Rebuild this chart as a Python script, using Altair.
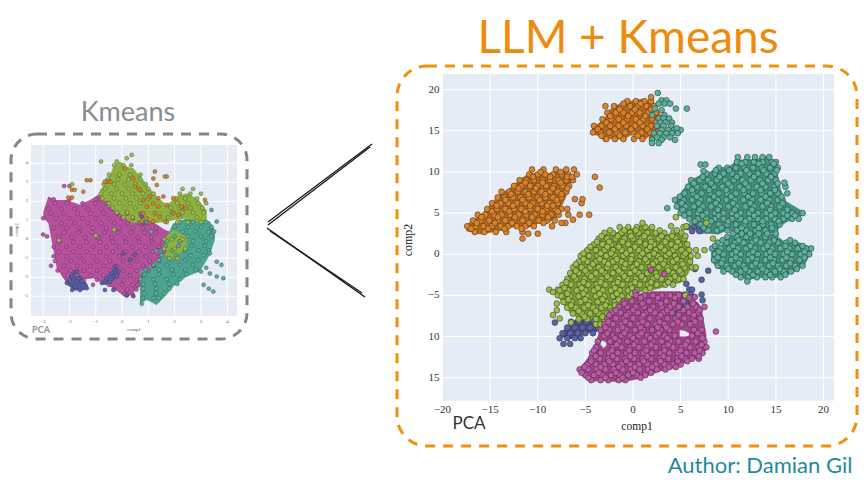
import altair as alt
import pandas as pd

COL = {"orange": "#e08224", "teal": "#56b29b", "green": "#99bf47", "magenta": "#c257a8", "blue": "#5a63a9"}
UNDER = {"orange": "#b9691c", "teal": "#44907c", "green": "#7c9c38", "magenta": "#9f4689", "blue": "#474e8a", "hole": "#e5ecf6"}
L_UNDER = {"orange": "#d07a20", "teal": "#4ba48e", "green": "#8db040", "magenta": "#b5509c", "blue": "#525a9c"}

# ---------- right panel (LLM + Kmeans) ----------
R_XDOM = [-20, 21.1]
R_YDOM = [-17.8, 21.9]
R_XTICKS = [-20, -15, -10, -5, 0, 5, 10, 15, 20]
R_XLABELS = ["\u221220", "\u221215", "\u221210", "\u22125", "0", "5", "10", "15", "20"]
R_YTICKS = [-15, -10, -5, 0, 5, 10, 15, 20]
R_YLABELS = ["15", "10", "\u22125", "0", "5", "10", "15", "20"]

R_BLOBS = [
    ("orange", [-17.5,-16,-15,-14,-13,-12,-11,-10,-9,-8,-7,-6.5],
     [3.6,4.8,6,7.3,8,9,9.8,9.9,9.8,10,10.3,9.5], [2.8,2.4,2.6,2.8,3.2,3.3,3.2,3.7,3.7,4.5,7,8.8]),
    ("orange", [-4.3,-3.5,-3,-2.5,-2,-1,0,1,2,3],
     [15.3,16,16.5,17.5,18,18.4,18.7,18.9,18.5,16.8], [14.6,14.3,13.6,14,14,13.9,14.6,13.8,14.5,15.8]),
    ("teal", [4.4,5,6,7,8,9,10,11,12,13,14,15,15.5,16,17,17.9],
     [6.6,7.5,9,9.6,10,10.6,10.6,11.5,11.5,11.6,11.9,11,8,6.5,5.8,5.2],
     [5.8,5,4.5,2.5,2.5,2.4,3,2.5,2.5,2.2,2.4,2.6,3.4,3.8,4.4,4.8]),
    ("teal", [8.2,9,10,11,12,13,14,15,16,17,18,18.7],
     [0.6,0.8,2.1,2.7,2.7,2.7,2.7,2.3,1.5,1.6,1.2,0.8], [-0.9,-1.8,-2.2,-2.6,-3.2,-2.9,-2.9,-2.9,-2.7,-2,-1.4,0.2]),
    ("blue", [-7.5,-7,-6,-5,-4,-3.6], [-9.5,-8.8,-7.9,-7.9,-8.2,-8.6], [-10,-10.3,-10.3,-9.6,-9.5,-9.3]),
    ("green", [-7.7,-7,-6.5,-6,-5,-4,-3,-2,-1,0,1,2,3,4,5,5.8,6.3],
     [-4,-3,-2,-1,0.3,1.2,2.5,2.6,3,3.2,3.6,3.1,2.5,2.5,2.6,1.5,-0.3],
     [-5.5,-6.6,-7.4,-7.6,-8,-8.4,-8.6,-7,-6.2,-5.2,-4.5,-4.4,-4.1,-3.7,-3.5,-2.4,-1]),
    ("magenta", [-5.6,-5,-4.4,-4,-3.5,-3,-2,-1,0,1,2,3,4,5,6,6.8,7.2,7.7],
     [-13.8,-13,-12,-11,-9.2,-8.6,-6.8,-6,-5,-4.7,-4.5,-4.5,-4.5,-4.5,-5.4,-5.8,-6.5,-9.8],
     [-14.4,-15,-15.4,-15.5,-15.3,-15.4,-15.5,-15.5,-15.3,-15,-14.6,-14.2,-14,-13.4,-13,-12.6,-12.3,-11.6]),
    ("hole", [-3.4,-3.1,-2.8], [-10.6,-10.5,-10.8], [-11,-11.4,-11.1]),
    ("hole", [4.9,5.4,5.9], [-9.2,-9.3,-9.6], [-10,-10,-9.9]),
]

R_ORANGE = [
    (2.7,[-16.6,-15.6,-14.4,-13.3,-11.6]),(1.9,[-11.6]),(2.5,[-11,-10]),
    (3.4,[-17.4,-16.5,-15.7,-14.8,-13.9,-13.1,-12.2,-11.3,-10.4,-8.5]),
    (3.8,[-7.1,-7.5]),(4.2,[-6.3]),
    (4.1,[-16.8,-16,-15.1,-14.2,-13.4,-12.5,-11.6,-10.7,-9.9,-9,-8.2]),
    (4.8,[-16.3,-15.5,-14.6,-13.8,-12.9,-12,-11.2,-10.3,-9.5,-8.6,-7.8,-6.8,-5.6,-4.6]),
    (5.5,[-15.3,-14.3,-13.4,-12.5,-11.7,-10.8,-10,-9.1,-8.2,-7.5,-6.9]),
    (6.2,[-14.8,-13.9,-13.1,-12.2,-11.3,-10.5,-9.6,-8.8,-7.9,-5.4]),
    (6.7,[-6.1,-5.3]),
    (6.9,[-14.2,-13.5,-12.6,-11.8,-10.9,-10,-9.2,-8.4,-7.5]),
    (7.6,[-13.8,-13,-12.1,-11.3,-10.4,-9.6,-8.7,-7.9,-7]),
    (8.3,[-12.5,-11.7,-10.8,-10,-9.1,-8.3,-7.4,-6.7]),
    (8.1,[-3.5]),(9.4,[-4]),
    (9,[-11.9,-11.2,-10.4,-9.5,-8.7,-7.8,-7,-6.3]),
    (9.7,[-10.9,-10,-9.2,-8.4,-7.5,-6.8,-5.9]),
    (10.3,[-10.6,-9.4,-8.1,-7,-6.2]),
    (14,[-2.8,-1.9,-1,0.1,1,2]),
    (14.8,[-4.2,-3.4,-2.5,-1.7,-0.8,0,0.9,1.8,2.5]),
    (15.6,[-4.1,-3.3,-2.4,-1.5,-0.7,0.2,1,1.9,2.7]),
    (16.4,[-3.2,-2.3,-1.5,-0.6,0.3,1.1,2,2.8]),
    (17.2,[-2.7,-1.8,-1,-0.1,0.7,1.6,2.4]),
    (18,[-2.9,-2,-1.2,-0.3,0.5,1.4,2.2]),
    (18.6,[-0.6,0.3,1.2,1.9]),(19.1,[1.9]),
    (3.1,[-17,-15.2,-13.5,-11.7]),(3.8,[-16.4,-14.5,-12.7,-10.9,-9.4]),(4.5,[-15.9,-14.2,-12.4,-10.6,-8.9]),
    (5.2,[-14.8,-13,-11.3,-9.5,-7.9]),(5.9,[-14.3,-12.6,-10.8,-9,-8.4]),(6.6,[-13.4,-11.6,-9.8,-8]),
    (7.3,[-12.8,-11,-9.2,-7.5]),(8,[-12,-10.2,-8.4,-6.9]),(8.7,[-11.3,-9.5,-7.6]),(9.4,[-10.5,-8.7,-6.9,-6.4]),
    (10,[-9.7,-7.6]),(14.4,[-3.3,-1.4,0.5,2.2]),(15.2,[-3.7,-1.9,-0.2,1.5]),(16,[-2.8,-1,0.7,2.4]),
    (16.8,[-2.4,-0.5,1.3]),(17.6,[-1.4,0.2,1.9]),(18.3,[-1,0.8]),
]
R_TEAL = [
    (19.6,[2.6]),(18.7,[3,3.5]),(18.3,[2.7,3.3,3.9]),(17.7,[2.3,4.5,5.65]),(17.5,[3]),
    (16.9,[2,3.3]),(16.5,[2.7,3.8,3.2]),(16,[2.9,4.1,3.4]),(15.6,[2.5,3.2,4]),(15.1,[3,3.7,4.3,5]),
    (15.3,[4.6]),(14.7,[2.2,2.8,3.5,4.1,4.7]),(14.2,[2.5,3.2,3.9]),(13.9,[2,3,4.4]),(13.5,[2,2.7]),
    (2.9,[6.9,7.9,8.8,9.9,10.9,11.9,12.9,13.9,14.9]),
    (3.6,[6.2,7.1,8,9,9.9,10.8,11.7,12.7,13.6,14.5,15.4]),
    (4.3,[5.9,6.8,7.7,8.6,9.5,10.4,11.3,12.2,13.1,14,14.9,15.8,16.7,17.4]),
    (5,[5,5.9,6.8,7.7,8.6,9.5,10.4,11.3,12.2,13.1,14,14.9,15.8,16.7,17.8]),
    (5.8,[4.6,5.5,6.4,7.3,8.2,9.1,10,10.9,11.8,12.7,13.6,14.5,15.4]),
    (5.6,[3.6]),
    (6.6,[4.4,5.3,6.2,7.1,8,8.9,9.8,10.7,11.6,12.5,13.4,14.3,15.2,15.7]),
    (7.4,[5.4,6.3,7.2,8.1,9,9.9,10.8,11.7,12.6,13.5,14.4,15.2,16.2]),
    (8.2,[5.8,6.7,7.6,8.5,9.4,10.3,11.2,12.1,13,13.9,14.8,16]),
    (8.7,[15.9]),
    (9,[6.1,7,7.9,8.8,9.7,10.6,11.5,12.4,13.3,14.2,15]),
    (9.8,[7.7,8.6,9.5,10.4,11.3,12.2,13.1,14,14.9]),(10.1,[7.4]),(10.9,[7.1,7.6]),
    (10.5,[9,9.9,10.8,11.7,12.6,13.5,14.4,15.2]),
    (11.2,[10.9,11.8,12.7,13.6,14.6,15]),
    (11.8,[11,12,12.8,13.6,14.3]),
    (2.1,[9.9,10.9,11.9,12.9,13.9,14.9]),
    (1.4,[8.9,9.8,10.7,11.6,12.5,13.4,14.3,15.2,16.1,17]),
    (0.7,[8.3,9.2,10.1,11,11.9,12.8,13.7,14.6,15.5,16.4,17.3,18.2,18.7]),
    (0,[8.6,9.5,10.4,11.3,12.2,13.1,14,14.9,15.8,16.7,17.6,18.5]),
    (-0.7,[8.5,9.4,10.3,11.2,12.1,13,13.9,14.8,15.7,16.6,17.5]),
    (-1.4,[8.9,9.8,10.7,11.6,12.5,13.4,14.3,15.2,16.1,17,17.8]),
    (-2.1,[9.5,10.4,11.3,12.2,13.1,14,14.9,15.8,16.6]),
    (-2.8,[11.3,12.1,13,13.9,14.6,15.5]),(-3.3,[12]),
    (3.2,[7.4,9.3,11.4,13.2,14.6]),(4,[6.5,8.2,10,11.8,13.6,15.3]),(4.7,[5.4,7.3,9,10.9,12.7,14.5,16.2,17]),
    (5.4,[5.2,7,8.9,10.7,12.5,14.4,16.2]),(6.2,[5.1,6.9,8.7,10.5,12.3,14.1,15.7]),(7,[4.9,6.7,8.5,10.3,12.1,13.9,15.6]),
    (7.8,[6.2,8,9.8,11.6,13.4,14.9]),(8.6,[6.4,8.2,10,11.8,13.6,15.2]),(9.4,[7.3,9.1,10.9,12.7,14.5]),
    (10.2,[8.7,10.1,11.9,13.7,15.1]),(11,[11.4,13.2,14.8]),(2.5,[10.5,11.4,12.3,13.2,14.1,15]),
    (1.7,[9.4,11.1,12.9,14.8,16.5]),(1,[8.6,10.5,12.3,14.1,16,17.8]),(0.3,[9,10.8,12.6,14.4,16.2,18]),
    (-0.4,[8.9,10.8,12.5,14.4,16.1,18]),(-1.1,[9.3,11.1,12.9,14.7,16.5]),(-1.8,[10,11.8,13.6,15.4,17.2]),
    (-2.5,[10.8,12.6,14.4,16]),
]
R_BLUE = [
    (-8.2,[-6.5,-5.7,-4.9,-4.1]),(-8.3,[-8.2]),(-8.9,[-6.9,-6.1,-5.3,-4.5,-3.7]),
    (-9.6,[-7.4,-6.6,-5.8,-5,-4.2]),(-10.2,[-7.7,-6.9,-6.1,-5.5]),(-10.9,[-7.3,-6.6]),
    (-1.8,[6.5]),(-2,[7.9]),(-3.1,[7.2]),(-3.6,[5.6]),(-4.3,[5.9,6.2]),(-4.9,[7.2,5.4,6.1]),
    (-5.3,[5.7,6.3]),(-5.6,[5.3,5.6,6,7.3]),(-6,[5.1,5.5]),(-7.2,[4.7]),(3.3,[5.7,6.4]),(2.8,[6.2,7]),
]
R_GREEN = [
    (3.3,[-1.4,-0.5,0.4,1.3,2,5.3]),(3.8,[1,7.7]),(4.5,[4.5]),(3.4,[4,5.6]),(1.9,[8.4]),
    (2.6,[-3,-2.1,-1.2,-0.3,0.6,1.5,2.4,3.3,4.2,5.1]),
    (1.9,[-3.6,-2.7,-1.8,-0.9,0,0.9,1.8,2.7,3.6,4.5,5.4]),
    (1.2,[-4.1,-3.2,-2.3,-1.4,-0.5,0.4,1.3,2.2,3.1,4,4.9,5.7]),
    (0.5,[-4.8,-3.9,-3,-2.1,-1.2,-0.3,0.6,1.5,2.4,3.3,4.2,5.1,5.9,6.6,7.5]),
    (-0.2,[-5.5,-4.6,-3.7,-2.8,-1.9,-1,-0.1,0.8,1.7,2.6,3.5,4.4,5.3,6.1,6.8]),
    (-0.9,[-5.7,-4.8,-3.9,-3,-2.1,-1.2,-0.3,0.6,1.5,2.4,3.3,4.2,5.1,6]),
    (-1.6,[-6.3,-5.4,-4.5,-3.6,-2.7,-1.8,-0.9,0,0.9,1.8,2.7,3.6,4.5,5.4,6.2,6.6]),
    (-2.3,[-6.6,-5.7,-4.8,-3.9,-3,-2.1,-1.2,-0.3,0.6,1.5,2.4,3.3,4.2,5.1]),
    (-3,[-6.9,-6,-5.1,-4.2,-3.3,-2.4,-1.5,-0.6,0.3,1.2,2.1,3,3.9,4.8,5.3]),
    (-3.7,[-7.4,-6.5,-5.6,-4.7,-3.8,-2.9,-2,-1.1,-0.2,0.7,1.6,2.5,3.4,4.2]),
    (-4.3,[-8.8,-7.9]),(-4.6,[-8.4]),(-5,[-7.9,5.5]),(-6,[-8]),(-6.8,[-8]),(-7.4,[-8.4]),(-7.8,[-7.7]),(-8.3,[-6.5]),
    (-4.4,[-7.7,-6.8,-5.9,-5,-4.1,-3.2,-2.3,-1.4,-0.5,0.4,1.3]),
    (-5.1,[-7.5,-6.6,-5.7,-4.8,-3.9,-3,-2.1,-1.2,-0.4]),
    (-5.8,[-7.3,-6.4,-5.5,-4.6,-3.7,-2.8,-1.9,-1.1]),
    (-6.5,[-6.9,-6,-5.1,-4.2,-3.3,-2.4,-1.6]),
    (-7.2,[-6.3,-5.4,-4.5,-3.6,-2.7]),
    (-7.9,[-5.7,-4.8,-3.9,-3]),(-8.5,[-3.9,-3.4]),
    (2.9,[-2.4,-0.9,0.3,2.8,4.6]),(2.2,[-3.3,-1.6,-0.2,1.2,3,4.1,5.5]),(1.5,[-3.8,-2.5,-1.1,0.7,1.9,3.4,4.7]),
    (0.9,[-4.5,-2.7,-1.5,0.2,1.8,2.9,4.5]),(0.1,[-5.2,-3.4,-2.3,-0.7,1,2.2,3.8,5.5]),(-0.6,[-5.2,-3.5,-1.7,-0.2,1.3,2.9,4.6]),
    (-1.2,[-6,-4.2,-2.6,-0.8,0.4,2.1,3.2,5.2]),(-2,[-6,-5,-3.3,-1.5,0.2,1.9,3.7,4.9]),(-2.7,[-6.2,-4.4,-2.7,-0.9,0.9,2.5,4.4]),
    (-3.4,[-7,-5.2,-3.4,-1.6,0.2,1.9,3.7]),(-4.1,[-7.2,-5.4,-3.7,-1.9,-0.1,1.8]),(-4.8,[-6.9,-5.2,-3.5,-1.7,-0.1]),
    (-5.5,[-6.8,-5,-3.2,-1.5]),(-6.2,[-6.5,-4.7,-2.9,-1.9]),(-6.9,[-5.7,-3.9,-2.3]),(-7.6,[-5.1,-3.2]),
]
R_MAGENTA = [
    (-1.9,[1.9]),(-2.4,[3.3]),(-4.6,[0.25]),(-5.2,[6.5]),(-9.4,[8.7]),
    (-5,[0.3,1.2,2.1,3,3.9,4.8]),
    (-5.7,[-1,-0.1,0.8,1.7,2.6,3.5,4.4,5.3,6.2]),
    (-6.4,[-1.5,-0.6,0.3,1.2,2.1,3,3.9,4.8,5.7,6.6,7.5]),
    (-7.1,[-2.2,-1.3,-0.4,0.5,1.4,2.3,3.2,4.1,5,5.9,6.8]),
    (-7.8,[-2.7,-1.8,-0.9,0,0.9,1.8,2.7,3.6,4.5,5.4,6.3,7.1]),
    (-8.5,[-3,-2.1,-1.2,-0.3,0.6,1.5,2.4,3.3,4.2,5.1,6]),
    (-9.2,[-3.4,-2.5,-1.6,-0.7,0.2,1.1,2,2.9,3.8,6.4,7.2]),
    (-9.9,[-3,-2.1,-1.2,-0.3,0.6,1.5,2.4,3.3,4.4,6.2,7.2]),
    (-10.6,[-3.7,-2.4,-1.5,-0.6,0.3,1.2,2.1,3,3.9,4.8,5.7,6.6,7.5]),
    (-11.3,[-3.9,-2.1,-1.2,-0.3,0.6,1.5,2.4,3.3,4.2,5.1,6,6.9,7.7]),
    (-12,[-4.3,-3.4,-2.5,-1.6,-0.7,0.2,1.1,2,2.9,3.8,4.7,5.6,6.5,7.3]),
    (-12.7,[-4.4,-3.5,-2.6,-1.7,-0.8,0.1,1,1.9,2.8,3.7,4.6,5.5,6.2,6.9]),
    (-13.4,[-4.8,-3.9,-3,-2.1,-1.2,-0.3,0.6,1.5,2.4,3.3,4.2,5]),
    (-14,[-5.6,-4.7,-3.8,-2.9,-2,-1.1,-0.2,0.7,1.6,2.5,3.4]),
    (-14.7,[-5,-4.1,-3.2,-2.3,-1.4,-0.5,0.4,1.3]),
    (-15.3,[-4.4,-3.4,-2.6,-1.5,-0.8]),
    (-5.3,[0.8,2.6,4.4,5.9]),(-6,[-0.9,1,2.9,4.3,6.3]),(-6.8,[-1.8,0,1.8,3.6,5.3,7]),(-7.4,[-2.5,-0.7,1.1,2.9,4.8,6.4]),
    (-8.2,[-2.6,-0.8,1,2.8,4.7,6.5]),(-8.9,[-2.9,-1.1,0.8,2.6,3.5]),(-9.6,[-2.7,-0.9,0.9,2.7,6.8]),
    (-10.2,[-1.9,0,1.8,3.6,7.3]),(-11,[-1.7,0.1,1.9,3.7,5.5,7.2]),(-11.7,[-4.1,-2.2,-0.4,1.4,3.3,5,7]),
    (-12.4,[-3.9,-2.1,-0.3,1.5,3.2,5.1,6.9]),(-13,[-4.4,-2.5,-0.7,1.1,2.9,4.7,5.7]),(-13.7,[-5.1,-3.4,-1.5,0.2,2,3.8,4.5]),
    (-14.4,[-5.4,-3.6,-1.8,0,1.9]),(-15,[-4.7,-2.9,-1.1,0.8]),
]

# ---------- left panel (Kmeans) ----------
L_XDOM = [-3.46, 4.37]
L_YDOM = [-4.04, 4.96]
L_XTICKS = [-3, -2, -1, 0, 1, 2, 3, 4]
L_XLABELS = ["\u22123", "\u22122", "\u22121", "0", "1", "2", "3", "4"]
L_YTICKS = [-3, -2, -1, 0, 1, 2, 3, 4]
L_YLABELS = ["\u22123", "\u22122", "\u22121", "0", "1", "2", "3", "4"]

L_BLOBS = [
    ("magenta", [-2.99,-2.8,-2.48,-2.1,-1.6,-1.09,-0.84,-0.33,0.18,0.68,1.19,1.63,2],
     [1.46,2.25,2.07,2.07,1.82,2.16,2.42,1.63,1.28,0.9,0.9,0.5,0.3],
     [1.11,0.84,-1.53,-2.32,-2.14,-2.05,-2.23,-2.58,-3.1,-2.49,-1.88,-1.09,-0.3]),
    ("teal", [0.68,0.94,1.32,1.63,1.95,2.46,2.96,3.34,3.53],
     [-1.7,-1.53,-1.09,-0.04,0.84,1.1,1.1,0.93,0.49], [-3.37,-3.2,-3.46,-3.02,-2.49,-1.96,-1.7,-0.82,-0.04]),
    ("green", [-0.84,-0.58,-0.33,-0.08,0.18,0.43,0.81,1,1.32,1.7,2.08,2.46,2.84,3.22],
     [2.6,2.95,3.82,4.09,3.82,3.74,3.12,2.77,2.25,1.8,2.25,2.42,2.16,1.54],
     [2.25,1.81,1.54,1.37,1.02,0.85,0.85,0.85,0.85,0.93,1.02,1.11,0.93,0.84]),
    ("green", [1.57,1.95,2.46], [-0.04,0.49,0.14], [-0.74,-1.09,-0.39]),
    ("blue", [-2.1,-1.8,-1.5,-1.3], [-2.1,-1.6,-2,-2.4], [-2.4,-2.7,-2.7,-2.6]),
    ("blue", [-0.75,-0.5,-0.25,-0.1], [-2.2,-1.8,-1.4,-1.6], [-2.4,-2.4,-2.1,-1.9]),
]
L_MAGENTA = [
    (2.8,[-2.2,-2]),(2.1,[-2.6,-2,-1,-0.8]),(1.6,[-2.8,-2.3,-1.8,-1.3,-0.8,-0.4]),
    (1.1,[-3,-2.5,-2,-1.5,-1,-0.5,0,0.4]),(0.6,[-2.6,-2.1,-1.6,-1.1,-0.6,-0.1,0.4,0.8,1.3]),
    (0.25,[-3]),(0.15,[-2.85]),
    (0.1,[-2.4,-1.9,-1.4,-0.9,-0.4,0.1,0.6,1.1]),
    (-0.4,[-2.6,-2.1,-1.6,-1.1,-0.6,-0.1,0.4,0.9,1.4]),
    (-0.9,[-2.6,-2.1,-1.6,-1.1,-0.6,-0.1,0.4,0.9,1.4]),
    (-1.4,[-2.7,-2.2,-1.7,-1.2,-0.7,-0.2,0.3,0.8,1.2]),
    (-1.9,[-2.2,-1.7,-1.2,-0.7,-0.2,0.3,0.8]),
    (-2.4,[-1.1,-0.5,0,0.4,0.6]),(-2.9,[0.1,0.4]),
    (1.9,[-2.55,-2.1,-1.5,-1,-0.6]),(1.35,[-2.7,-2.2,-1.7,-1.2,-0.7,-0.2,0.2,0.7]),
    (0.85,[-2.3,-1.8,-1.3,-0.8,-0.3,0.2,0.65,1]),(0.35,[-2.2,-1.65,-1.15,-0.65,-0.15,0.35,0.85,1.3]),
    (-0.15,[-2.4,-1.85,-1.35,-0.85,-0.35,0.15,0.65,1.15,1.55]),(-0.65,[-2.4,-1.85,-1.35,-0.85,-0.35,0.15,0.65,1.15,1.6]),
    (-1.15,[-2.55,-1.95,-1.45,-0.95,-0.45,0.05,0.55,1.05,1.4]),(-1.65,[-2.45,-1.95,-1.45,-0.95,-0.45,0.05,0.55,1]),
    (-2.15,[-2,-1.45,-0.95,-0.45,0.05,0.55]),(-2.65,[-0.3,0.2,0.55]),
]
L_TEAL = [
    (0.9,[2.2,2.7,3.2,0.9]),(0.4,[2.3,2.8,3.3,3.5,1.1]),(-0.1,[1.7,2.2,2.7,3.2]),
    (-0.6,[1.3,1.9,2.4,2.9,3.3]),(-1.1,[1.4,1.9,2.4,2.9]),(-1.6,[0.9,1.4,1.9,2.4,2.8]),
    (-2.1,[0.7,1.2,1.7,2.2]),(-2.6,[0.8,1.3,1.8]),(-3.1,[0.8,1.2,1.4]),(-3.4,[0.75]),
    (-1.18,[3.6]),(-1.35,[3.78]),(-0.74,[3.34]),(-1.5,[3.2]),(-1.7,[3]),(-1.8,[3.34]),(-1.96,[3.6]),
    (-2.05,[3.85]),(-2.4,[3.1]),(-2.6,[3.3]),(-2.75,[3.47]),(1.54,[3.4]),(0.93,[3.6]),
    (0.65,[2,2.5,3,3.4]),(0.15,[2,2.5,3,3.4]),(-0.35,[1.65,2.15,2.65,3.15]),(-0.85,[1.5,2.05,2.6,3.1]),
    (-1.35,[1.2,1.7,2.2,2.7]),(-1.85,[0.85,1.4,1.95,2.45]),(-2.35,[0.8,1.25,1.8,2.1]),(-2.85,[0.85,1.3,1.6]),
]
L_GREEN = [
    (4.44,[0.37]),(4.26,[0.18]),(4.09,[-0.2,-0.8]),(3.9,[-0.3,0.05,0.35]),(3.4,[-0.5,-0.1,0.3,0.7]),
    (3.3,[1.7]),(2.9,[-0.7,-0.3,0.1,0.5,0.9,-1.9]),(2.4,[-0.8,-0.4,0,0.4,0.8,1.2,2.2,2.6,3]),
    (1.9,[-0.5,-0.1,0.3,0.7,2.1,2.5,2.9,3.2]),(1.4,[-0.2,0.2,1.9,2.3,2.7,3.1]),
    (0.9,[1.7,2.1,2.5,3]),(0.5,[-0.3]),(0.2,[-1]),(-0.05,[-2.4]),
    (0,[1.6,1.9,2.3]),(-0.5,[1.6,2,2.4]),(-1,[1.8,2.1]),
    (3.15,[-0.55,-0.15,0.25,0.7]),(2.65,[-0.65,-0.2,0.25,0.65,1,2.3,2.7]),(2.15,[-0.75,-0.3,0.15,0.55,1,2.05,2.4,2.85]),
    (1.65,[-0.35,0.1,0.5,1.85,2.2,2.6,3.05]),(1.15,[0.05,0.4,1.75,2.2,2.85]),
]
L_ORANGE = [
    (2.6,[-1.91,-1.8,0.68]),(2.2,[-2.04,-1.9]),(3.1,[-1.34,-1.2]),(2.5,[-1.47]),
    (3.03,[-0.58,-0.65,-0.45]),(3.73,[0.11]),(3.2,[0.43,1.19]),(2.77,[0.49]),
    (3.56,[1.25]),(3.3,[1.63]),(2.86,[1.32]),(2.25,[1.06,1.57]),(2.07,[0.81,3.15]),
    (2.16,[1.38,1.95]),(1.89,[1.19]),(1.72,[0.94,1.38,2.27]),(1.8,[1.7]),(1.63,[2.4]),
    (1.37,[1.95,1.25,0.81]),(1.1,[0.94]),(0.93,[0.75,1.19,1.63]),(1.19,[1.44]),(1.28,[2.14]),
]
L_BLUE = [
    (-1.96,[-1.9]),(-1.7,[-1.72,-0.14]),(-2.3,[-2.1,-0.77]),(-2.5,[-1.78]),(-2.23,[-1.53,-1.97,-0.46]),
    (-2.67,[-1.6,-1.9,-0.65,-0.33]),(-2.58,[-1.34]),(-2.05,[-1.66,-0.58]),(-1.44,[-0.27]),(-1.79,[-0.39]),
    (-1.96,[-0.2]),(-1.09,[0.3]),(-0.82,[0.49]),(-0.74,[0.05]),(1.19,[0.75]),(0.84,[0.81]),(-3,[0.43]),(-2.93,[0.18]),
]

# ---------- texts ----------
TITLE_RIGHT = "LLM + Kmeans"
TITLE_LEFT = "Kmeans"
AUTHOR = "Author: Damian Gil"


def points(panel_rows):
    out = []
    for name, rows in panel_rows:
        for y, xs in rows:
            for x in xs:
                out.append({"x": x, "y": y, "hex": COL[name]})
    return pd.DataFrame(out)


def blobs(items, shades):
    out = []
    for i, (name, xs, tops, bots) in enumerate(items):
        for x, t, b in zip(xs, tops, bots):
            out.append({"x": x, "top": t, "bot": b, "blob": i, "hex": shades[name]})
    return pd.DataFrame(out)


def panel(xdom, ydom, xticks, xlabels, yticks, ylabels, xrange_px, yrange_px, blob_items, shades, pts,
          size, sw, font_size, label_color, pad):
    xs = alt.Scale(domain=xdom, range=xrange_px, nice=False, zero=False)
    ys = alt.Scale(domain=ydom, range=yrange_px, nice=False, zero=False)
    X = lambda f: alt.X(f, scale=xs, axis=None)
    Y = lambda f: alt.Y(f, scale=ys, axis=None)
    rect = pd.DataFrame({"x0": [xdom[0]], "x1": [xdom[1]], "y0": [ydom[0]], "y1": [ydom[1]]})
    bg = alt.Chart(rect).mark_rect(color="#e5ecf6").encode(x=X("x0:Q"), x2="x1:Q", y=Y("y0:Q"), y2="y1:Q")
    gx = pd.DataFrame({"x": xticks, "y0": ydom[0], "y1": ydom[1], "t": xlabels})
    gy = pd.DataFrame({"y": yticks, "x0": xdom[0], "x1": xdom[1], "t": ylabels})
    grid_x = alt.Chart(gx).mark_rule(color="white", strokeWidth=1.1).encode(x=X("x:Q"), y=Y("y0:Q"), y2="y1:Q")
    grid_y = alt.Chart(gy).mark_rule(color="white", strokeWidth=1.1).encode(y=Y("y:Q"), x=X("x0:Q"), x2="x1:Q")
    xt = alt.Chart(gx).mark_text(font="Liberation Serif", fontSize=font_size, color=label_color, baseline="top",
                                 align="center", dy=pad).encode(x=X("x:Q"), y=Y("y0:Q"), text="t:N")
    yt = alt.Chart(gy).mark_text(font="Liberation Serif", fontSize=font_size, color=label_color, baseline="middle",
                                 align="right", dx=-pad).encode(x=X("x0:Q"), y=Y("y:Q"), text="t:N")
    under = alt.Chart(blobs(blob_items, shades)).mark_area(opacity=1, interpolate="linear").encode(
        x=X("x:Q"), y=Y("top:Q"), y2="bot:Q", detail="blob:N", color=alt.Color("hex:N", scale=None))
    dots = alt.Chart(points(pts)).mark_point(filled=True, opacity=1, stroke="#2f2f2f", strokeWidth=sw, size=size).encode(
        x=X("x:Q"), y=Y("y:Q"), fill=alt.Fill("hex:N", scale=None))
    return alt.layer(bg, grid_x, grid_y, xt, yt, under, dots)


one = pd.DataFrame({"a": [0]})


def text(s, x, y, size, color, font="Lato", angle=0, weight="normal"):
    return alt.Chart(one).mark_text(text=s, font=font, fontSize=size, color=color, angle=angle, fontWeight=weight,
                                    align="center", baseline="middle").encode(x=alt.value(x), y=alt.value(y))


def box(x0, x1, y0, y1, color, r):
    return alt.Chart(one).mark_rect(fillOpacity=0, stroke=color, strokeWidth=3, strokeDash=[10, 8], cornerRadius=r).encode(
        x=alt.value(x0), x2=alt.value(x1), y=alt.value(y0), y2=alt.value(y1))


def stroke(x0, y0, x1, y1):
    return alt.Chart(one).mark_rule(color="#1c1c1c", strokeWidth=1.4).encode(
        x=alt.value(x0), x2=alt.value(x1), y=alt.value(y0), y2=alt.value(y1))


left = panel(L_XDOM, L_YDOM, L_XTICKS, L_XLABELS, L_YTICKS, L_YLABELS, [23, 229], [308, 137], L_BLOBS, L_UNDER,
             [("magenta", L_MAGENTA), ("teal", L_TEAL), ("green", L_GREEN), ("blue", L_BLUE), ("orange", L_ORANGE)],
             16, 0.35, 4.5, "#555555", 3)
right = panel(R_XDOM, R_YDOM, R_XTICKS, R_XLABELS, R_YTICKS, R_YLABELS, [434.5, 826], [392.7, 66], R_BLOBS, UNDER,
              [("orange", R_ORANGE), ("teal", R_TEAL), ("blue", R_BLUE), ("green", R_GREEN), ("magenta", R_MAGENTA)],
              34, 0.55, 11, "#333333", 3)

notes = alt.layer(
    box(3, 239, 126, 331, "#80888e", 26),
    box(389, 849, 58, 438, "#f0900c", 30),
    stroke(364, 136, 260, 214), stroke(362, 139, 260, 217),
    stroke(259, 220, 357, 289), stroke(262, 223, 354, 285),
    text(TITLE_RIGHT, 620, 31, 46, "#ee8a0c"),
    text(TITLE_LEFT, 120, 105, 27, "#868e93"),
    text(AUTHOR, 752, 458, 22, "#1f8a9b"),
    text("PCA", 33, 322, 9, "#8a9298", weight="bold"),
    text("PCA", 461, 416, 17, "#333333"),
    text("comp1", 629, 419, 11.5, "#222222", font="Liberation Serif"),
    text("comp2", 400, 232, 12, "#222222", font="Liberation Serif", angle=270),
    text("comp1", 126, 321, 5, "#555555", font="Liberation Serif"),
    text("comp2", 8, 222, 5, "#555555", font="Liberation Serif", angle=270),
)

chart = alt.layer(left, right, notes).resolve_scale(x="independent", y="independent").properties(
    width=852, height=472, padding=0, autosize=alt.AutoSizeParams(type="none"), background="white"
).configure_view(stroke=None)

chart.save("out.html", embed_options={"renderer": "svg", "actions": False})
